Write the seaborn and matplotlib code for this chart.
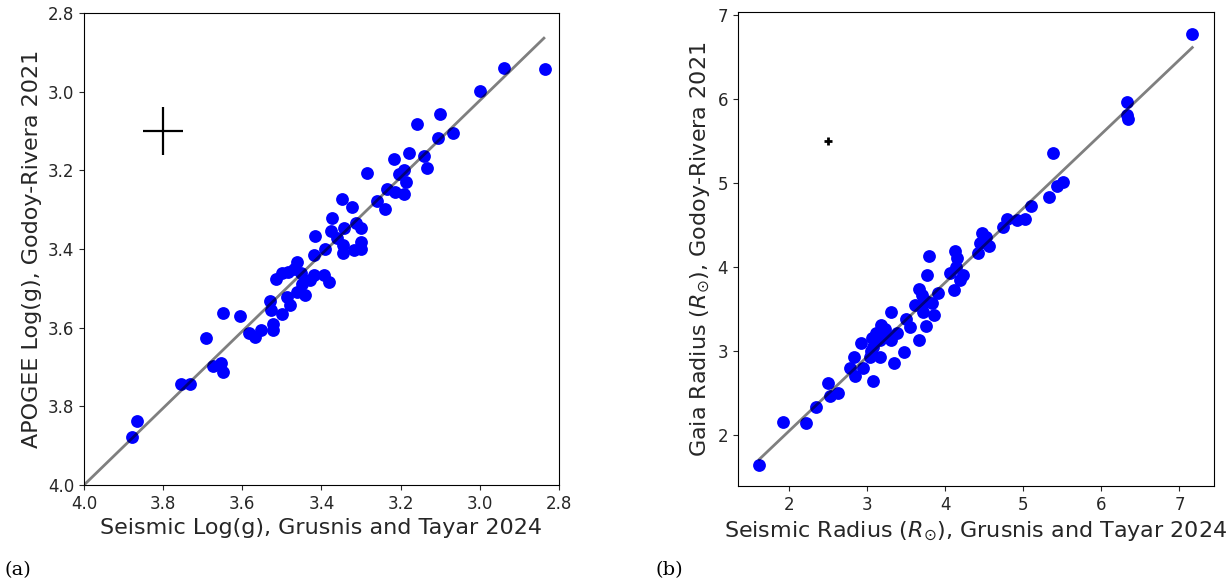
import matplotlib
matplotlib.use("Agg")
import matplotlib.pyplot as plt
import seaborn as sns
import pandas as pd

# Panel (a): surface gravity, seismic vs APOGEE
logg_seismic = [2.938, 2.835, 3.000, 3.101, 3.159, 3.067, 3.105, 3.178, 3.141, 3.216,
                3.134, 3.192, 3.203, 3.284, 3.186, 3.234, 3.214, 3.192, 3.259, 3.240,
                3.349, 3.324, 3.374, 3.377, 3.344, 3.313, 3.299, 3.417, 3.360, 3.346,
                3.299, 3.390, 3.345, 3.318, 3.300, 3.420, 3.463, 3.485, 3.453, 3.419,
                3.394, 3.381, 3.428, 3.441, 3.463, 3.487, 3.480, 3.515, 3.529, 3.527,
                3.501, 3.523, 3.523, 3.554, 3.567, 3.584, 3.605, 3.649, 3.692, 3.675,
                3.653, 3.649, 3.754, 3.732, 3.865, 3.879, 3.470, 3.500, 3.450]
logg_apogee = [2.939, 2.942, 2.998, 3.058, 3.082, 3.105, 3.117, 3.155, 3.164, 3.171,
               3.193, 3.198, 3.210, 3.208, 3.230, 3.248, 3.255, 3.261, 3.277, 3.299,
               3.274, 3.293, 3.321, 3.355, 3.346, 3.335, 3.346, 3.367, 3.371, 3.390,
               3.381, 3.401, 3.409, 3.403, 3.399, 3.416, 3.433, 3.458, 3.462, 3.467,
               3.467, 3.484, 3.479, 3.518, 3.509, 3.522, 3.543, 3.477, 3.533, 3.556,
               3.566, 3.590, 3.605, 3.605, 3.624, 3.613, 3.571, 3.564, 3.626, 3.698,
               3.689, 3.714, 3.744, 3.744, 3.837, 3.878, 3.450, 3.462, 3.490]
logg_fit_x = [4.0, 2.838]
logg_fit_y = [4.0, 2.864]
logg_err_pos = (3.8, 3.1)
logg_err_size = (0.05, 0.06)

# Panel (b): radius, seismic vs Gaia
rad_seismic = [7.156, 6.324, 6.324, 6.345, 5.376, 5.513, 5.427, 5.329, 5.099, 5.022,
               4.924, 4.795, 4.744, 4.467, 4.522, 4.446, 4.565, 4.424, 4.126, 3.793,
               4.147, 4.138, 4.061, 4.232, 4.190, 4.113, 3.763, 3.912, 3.665, 3.699,
               3.613, 3.827, 3.720, 3.857, 3.754, 3.665, 3.494, 3.549, 3.306, 3.379,
               3.306, 3.178, 3.229, 3.165, 3.059, 2.918, 3.080, 3.165, 3.037, 2.836,
               3.476, 3.348, 2.952, 2.781, 2.845, 3.071, 2.495, 2.525, 2.631, 2.346,
               1.919, 2.218, 1.620, 3.750, 3.700, 3.120, 3.250, 3.050]
rad_gaia = [6.770, 5.969, 5.811, 5.760, 5.356, 5.018, 4.970, 4.840, 4.732, 4.574,
            4.562, 4.574, 4.483, 4.411, 4.356, 4.285, 4.253, 4.166, 4.197, 4.134,
            4.107, 4.007, 3.929, 3.908, 3.849, 3.730, 3.908, 3.698, 3.738, 3.671,
            3.552, 3.572, 3.472, 3.433, 3.302, 3.136, 3.385, 3.286, 3.472, 3.215,
            3.136, 3.314, 3.262, 3.136, 3.163, 3.104, 3.056, 2.937, 2.937, 2.937,
            2.996, 2.866, 2.806, 2.806, 2.707, 2.648, 2.628, 2.473, 2.502, 2.342,
            2.164, 2.152, 1.649, 3.600, 3.550, 3.220, 3.200, 3.000]
rad_fit_x = [1.620, 7.164]
rad_fit_y = [1.717, 6.611]
rad_err_pos = (2.5, 5.5)
rad_err_size = (0.05, 0.05)

df_logg = pd.DataFrame({"seis": logg_seismic, "apogee": logg_apogee})
df_rad = pd.DataFrame({"seis": rad_seismic, "gaia": rad_gaia})

plt.rcParams["mathtext.fontset"] = "dejavusans"

fig = plt.figure(figsize=(12.32, 5.88), dpi=100)
ax1 = fig.add_axes([0.0682, 0.1752, 0.3855, 0.8027])
ax2 = fig.add_axes([0.5990, 0.1735, 0.3864, 0.8056])

# Left panel
sns.scatterplot(data=df_logg, x="seis", y="apogee", ax=ax1, color="blue", s=85, linewidth=0)
ax1.plot(logg_fit_x, logg_fit_y, color="black", alpha=0.5, lw=2)
ax1.errorbar([logg_err_pos[0]], [logg_err_pos[1]], xerr=[logg_err_size[0]], yerr=[logg_err_size[1]],
             fmt="none", ecolor="black", elinewidth=1.6)
ax1.set_xlim(4.0, 2.8)
ax1.set_ylim(4.0, 2.8)
ax1.set_xticks([4.0, 3.8, 3.6, 3.4, 3.2, 3.0, 2.8])
ax1.set_yticks([2.8, 3.0, 3.2, 3.4, 3.6, 3.8, 4.0])
ax1.set_xlabel("Seismic Log(g), Grusnis and Tayar 2024", fontsize=16)
ax1.set_ylabel("APOGEE Log(g), Godoy-Rivera 2021", fontsize=16)

# Right panel
sns.scatterplot(data=df_rad, x="seis", y="gaia", ax=ax2, color="blue", s=85, linewidth=0)
ax2.plot(rad_fit_x, rad_fit_y, color="black", alpha=0.5, lw=2)
ax2.errorbar([rad_err_pos[0]], [rad_err_pos[1]], xerr=[rad_err_size[0]], yerr=[rad_err_size[1]],
             fmt="none", ecolor="black", elinewidth=2)
ax2.set_xlim(1.347, 7.442)
ax2.set_ylim(1.40, 7.03)
ax2.set_xticks([2, 3, 4, 5, 6, 7])
ax2.set_yticks([2, 3, 4, 5, 6, 7])
ax2.set_xlabel(r"Seismic Radius ($R_{\odot}$), Grusnis and Tayar 2024", fontsize=16)
ax2.set_ylabel(r"Gaia Radius ($R_{\odot}$), Godoy-Rivera 2021", fontsize=16)

for ax in (ax1, ax2):
    ax.tick_params(labelsize=12, colors="#262626")
    ax.xaxis.label.set_color("#262626")
    ax.yaxis.label.set_color("#262626")

# Subfigure captions
fig.text(0.004, 0.022, "(a)", fontsize=14, family="DejaVu Serif")
fig.text(0.532, 0.022, "(b)", fontsize=14, family="DejaVu Serif")

fig.savefig("out.png", dpi=100)
